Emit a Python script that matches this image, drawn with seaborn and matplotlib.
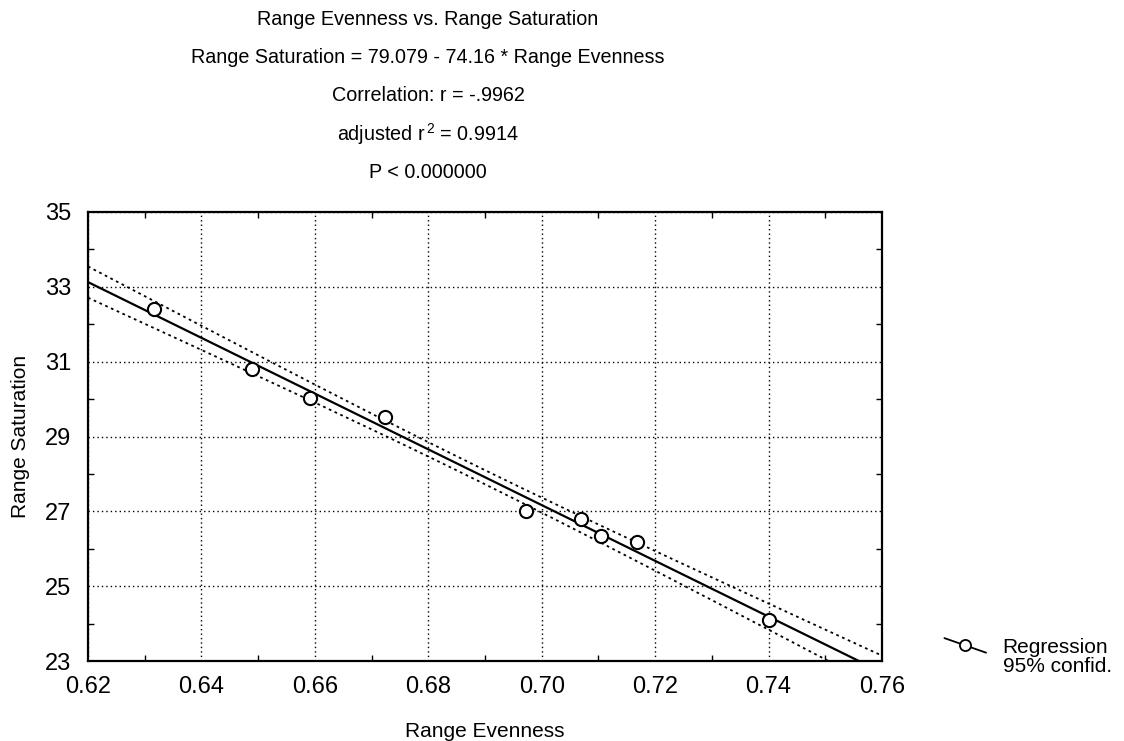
import numpy as np
import pandas as pd
import matplotlib
matplotlib.use("Agg")
import matplotlib.pyplot as plt
from matplotlib.lines import Line2D
from matplotlib.legend_handler import HandlerBase
from matplotlib.ticker import MultipleLocator, FormatStrFormatter
import seaborn as sns

# ---- data ----
range_evenness = [0.6316, 0.6490, 0.6592, 0.6723, 0.6973, 0.7069, 0.7105, 0.7168, 0.7400]
range_saturation = [32.41, 30.81, 30.02, 29.51, 27.00, 26.80, 26.35, 26.18, 24.09]
x_ticks = [0.62, 0.64, 0.66, 0.68, 0.70, 0.72, 0.74, 0.76]
y_ticks = [23, 25, 27, 29, 31, 33, 35]
title_lines = [
    "Range Evenness vs. Range Saturation",
    "Range Saturation = 79.079 - 74.16 * Range Evenness",
    "Correlation: r = -.9962",
    "adjusted r$^{\\,2}$ = 0.9914",
    "P < 0.000000",
]
t_crit = 2.365  # t(0.975, df=7)

sns.set_style("ticks")
plt.rcParams['font.family'] = ['Liberation Sans', 'DejaVu Sans']
plt.rcParams['mathtext.fontset'] = 'custom'
plt.rcParams['mathtext.rm'] = 'Liberation Sans'
for k in ['text.color', 'axes.labelcolor', 'xtick.color', 'ytick.color', 'axes.edgecolor']:
    plt.rcParams[k] = 'black'

df = pd.DataFrame({"x": range_evenness, "y": range_saturation})

# OLS fit with 95% confidence band for the mean
x = df["x"].to_numpy(); y = df["y"].to_numpy()
n = len(x)
slope, intercept = np.polyfit(x, y, 1)
resid = y - (intercept + slope * x)
s = np.sqrt(np.sum(resid ** 2) / (n - 2))
xg = np.linspace(x_ticks[0], x_ticks[-1], 200)
yg = intercept + slope * xg
se = s * np.sqrt(1.0 / n + (xg - x.mean()) ** 2 / np.sum((x - x.mean()) ** 2))
fit = pd.DataFrame({"x": xg, "fit": yg, "lo": yg - t_crit * se, "hi": yg + t_crit * se})

fig = plt.figure(figsize=(11.24, 7.41), dpi=100)
ax = fig.add_axes([88 / 1124, 1 - 661 / 741, (882 - 88) / 1124, (661 - 212) / 741])

sns.lineplot(data=fit, x="x", y="fit", ax=ax, color="black", lw=1.6, zorder=3)
sns.lineplot(data=fit, x="x", y="lo", ax=ax, color="black", lw=1.3, ls=(0, (1.5, 2)), zorder=3)
sns.lineplot(data=fit, x="x", y="hi", ax=ax, color="black", lw=1.3, ls=(0, (1.5, 2)), zorder=3)
sns.scatterplot(data=df, x="x", y="y", ax=ax, marker="o", s=90, facecolor="white",
                edgecolor="black", linewidth=1.5, zorder=4)

ax.set_xlim(x_ticks[0], x_ticks[-1])
ax.set_ylim(y_ticks[0], y_ticks[-1])
ax.set_xticks(x_ticks)
ax.set_yticks(y_ticks)
ax.xaxis.set_major_formatter(FormatStrFormatter("%.2f"))
ax.xaxis.set_minor_locator(MultipleLocator(0.01))
ax.yaxis.set_minor_locator(MultipleLocator(1))
ax.tick_params(which="both", direction="in", top=True, right=True, color="black", width=1)
ax.tick_params(which="major", length=0, labelsize=17, labelcolor="black")
ax.tick_params(axis="x", which="major", pad=11)
ax.tick_params(axis="y", which="major", pad=12)
ax.tick_params(which="minor", length=4)
ax.grid(True, which="major", color="black", ls=(0, (1, 2.2)), lw=1)
for sp in ax.spines.values():
    sp.set_color("black"); sp.set_linewidth(1.6); sp.set_visible(True)

ax.set_xlabel("Range Evenness", fontsize=15, labelpad=17, color="black")
ax.set_ylabel("Range Saturation", fontsize=15, labelpad=11, color="black")

for i, t in enumerate(title_lines):
    fig.text(428 / 1124, 1 - (19.5 + 38.2 * i) / 741, t, ha="center", va="center",
             fontsize=14.2, color="black")


class SlopedHandler(HandlerBase):
    def create_artists(self, legend, orig_handle, xdescent, ydescent, width, height, fontsize, trans):
        ln = Line2D([0, width], [height * 1.05, height * 0.05], color="black", lw=1.3, transform=trans)
        mk = Line2D([width * 0.5], [height * 0.55], marker="o", ms=8, mfc="white", mec="black",
                    mew=1.3, ls="none", transform=trans)
        return [ln, mk]


h1 = Line2D([], [], color="black")
h2 = Line2D([], [], color="none")
leg = fig.legend([h1, h2], ["Regression", "95% confid."], loc="upper left",
                 bbox_to_anchor=(934 / 1124, 1 - 628 / 741), frameon=False, fontsize=15,
                 handler_map={h1: SlopedHandler()}, handlelength=2.0, handletextpad=0.8,
                 labelspacing=0.0, borderpad=0, labelcolor="black")

fig.savefig("out.png", dpi=100)
